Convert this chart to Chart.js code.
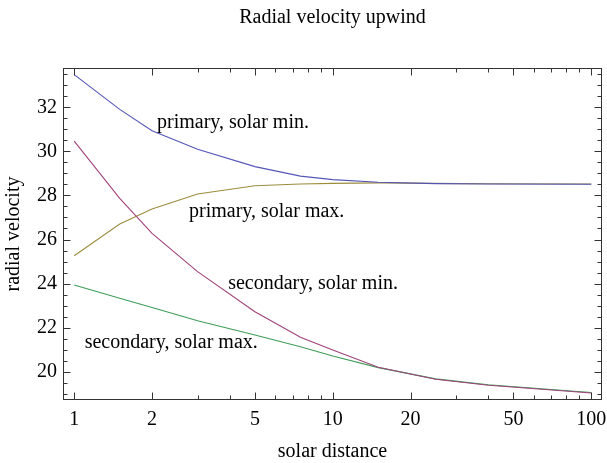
<!DOCTYPE html>
<html>
<head>
<meta charset="utf-8">
<script src="https://cdn.jsdelivr.net/npm/chart.js@4.4.1/dist/chart.umd.min.js"></script>
<style>
  html, body { margin: 0; padding: 0; background: #fff; }
  #wrap { width: 607px; height: 463px; }
</style>
</head>
<body>
<div id="wrap"><canvas id="chart-radial"></canvas></div>
<script>
// Data
const DISTANCES = [1, 1.5, 2, 3, 5, 7.5, 10, 15, 25, 40, 100];
const PRIMARY_MIN = [33.49, 31.91, 30.94, 30.10, 29.31, 28.88, 28.72, 28.60, 28.54, 28.52, 28.51];
const SECONDARY_MIN = [30.47, 27.87, 26.28, 24.54, 22.72, 21.56, 20.98, 20.20, 19.65, 19.38, 19.03];
const PRIMARY_MAX = [25.26, 26.70, 27.39, 28.07, 28.44, 28.52, 28.55, 28.57, 28.55, 28.53, 28.52];
const SECONDARY_MAX = [23.93, 23.33, 22.91, 22.31, 21.66, 21.13, 20.71, 20.18, 19.67, 19.40, 19.05];

const X_TICKS = [1, 2, 5, 10, 20, 50, 100];
const X_MINOR = [3, 4, 6, 7, 8, 9, 30, 40, 60, 70, 80, 90];
const Y_TICKS = [20, 22, 24, 26, 28, 30, 32];

const SERIF = '"Liberation Serif", "Times New Roman", serif';

// Line labels placed in data coordinates
const LABELS = [
  { text: "primary, solar min.", x: 2.09, y: 31.05 },
  { text: "primary, solar max.", x: 2.78, y: 27.0 },
  { text: "secondary, solar min.", x: 3.94, y: 23.77 },
  { text: "secondary, solar max.", x: 1.098, y: 21.05 },
];

const series = (label, values, color) => ({
  label,
  data: DISTANCES.map((d, i) => ({ x: d, y: values[i] })),
  borderColor: color,
  borderWidth: 1.1,
  pointRadius: 0,
  tension: 0,
  fill: false,
});

// Frame with inward ticks on all four sides
const frameTicks = {
  id: "frameTicks",
  afterDraw(chart) {
    const { ctx, chartArea: a, scales: { x, y } } = chart;
    const L = Math.round(a.left) + 0.5, R = Math.round(a.right) - 0.5;
    const T = Math.round(a.top) + 0.5, B = Math.round(a.bottom) - 0.5;
    ctx.save();
    ctx.strokeStyle = "#333";
    ctx.lineWidth = 1;
    ctx.beginPath();
    const xt = (v, len) => {
      const p = Math.round(x.getPixelForValue(v)) + 0.5;
      ctx.moveTo(p, B); ctx.lineTo(p, B - len);
      ctx.moveTo(p, T); ctx.lineTo(p, T + len);
    };
    const yt = (v, len) => {
      const p = Math.round(y.getPixelForValue(v)) + 0.5;
      ctx.moveTo(L, p); ctx.lineTo(L + len, p);
      ctx.moveTo(R, p); ctx.lineTo(R - len, p);
    };
    X_TICKS.forEach((v) => xt(v, 7));
    X_MINOR.forEach((v) => xt(v, 4));
    for (let v = 19; v <= 33.5; v += 0.5) yt(v, v % 2 === 0 ? 7 : 4);
    ctx.stroke();
    ctx.strokeRect(L, T, R - L, B - T);

    ctx.fillStyle = "#000";
    ctx.font = "20px " + SERIF;
    ctx.textBaseline = "alphabetic";
    LABELS.forEach((l) => {
      ctx.fillText(l.text, x.getPixelForValue(l.x), y.getPixelForValue(l.y));
    });
    ctx.restore();
  },
};

const CONFIG = {
  type: "line",
  data: {
    datasets: [
      series("primary, solar min.", PRIMARY_MIN, "#5555b8"),
      series("secondary, solar min.", SECONDARY_MIN, "#a0437a"),
      series("primary, solar max.", PRIMARY_MAX, "#9c8d3f"),
      series("secondary, solar max.", SECONDARY_MAX, "#3f9d58"),
    ],
  },
  options: {
    responsive: true,
    maintainAspectRatio: false,
    animation: false,
    layout: { padding: { left: 0, right: 5, top: 0, bottom: 0 } },
    plugins: {
      legend: { display: false },
      tooltip: { enabled: false },
      title: {
        display: true,
        fullSize: false,
        text: "Radial velocity upwind",
        color: "#000",
        font: { family: SERIF, size: 20, weight: "normal", lineHeight: 1.2 },
        padding: { top: 6, bottom: 38 },
      },
    },
    scales: {
      x: {
        type: "logarithmic",
        min: 0.905,
        max: 110,
        border: { display: false },
        grid: { display: false, drawTicks: false },
        afterBuildTicks: (s) => { s.ticks = X_TICKS.map((v) => ({ value: v })); },
        afterFit: (s) => { s.height = 63; s.paddingLeft = 0; s.paddingRight = 0; },
        ticks: {
          autoSkip: false,
          maxRotation: 0,
          padding: 8,
          color: "#000",
          font: { family: SERIF, size: 20 },
          callback: (v) => String(v),
        },
        title: {
          display: true,
          text: "solar distance",
          color: "#000",
          font: { family: SERIF, size: 20 },
          padding: { top: 0, bottom: -1 },
        },
      },
      y: {
        min: 18.71,
        max: 33.79,
        border: { display: false },
        grid: { display: false, drawTicks: false },
        afterBuildTicks: (s) => { s.ticks = Y_TICKS.map((v) => ({ value: v })); },
        afterFit: (s) => { s.width = 63; s.paddingTop = 0; s.paddingBottom = 0; },
        ticks: {
          padding: 6,
          color: "#000",
          font: { family: SERIF, size: 20 },
        },
        title: {
          display: true,
          text: "radial velocity",
          color: "#000",
          font: { family: SERIF, size: 20 },
          padding: { top: 2, bottom: 0 },
        },
      },
    },
  },
  plugins: [frameTicks],
};

new Chart(document.getElementById("chart-radial"), CONFIG);
</script>
</body>
</html>
